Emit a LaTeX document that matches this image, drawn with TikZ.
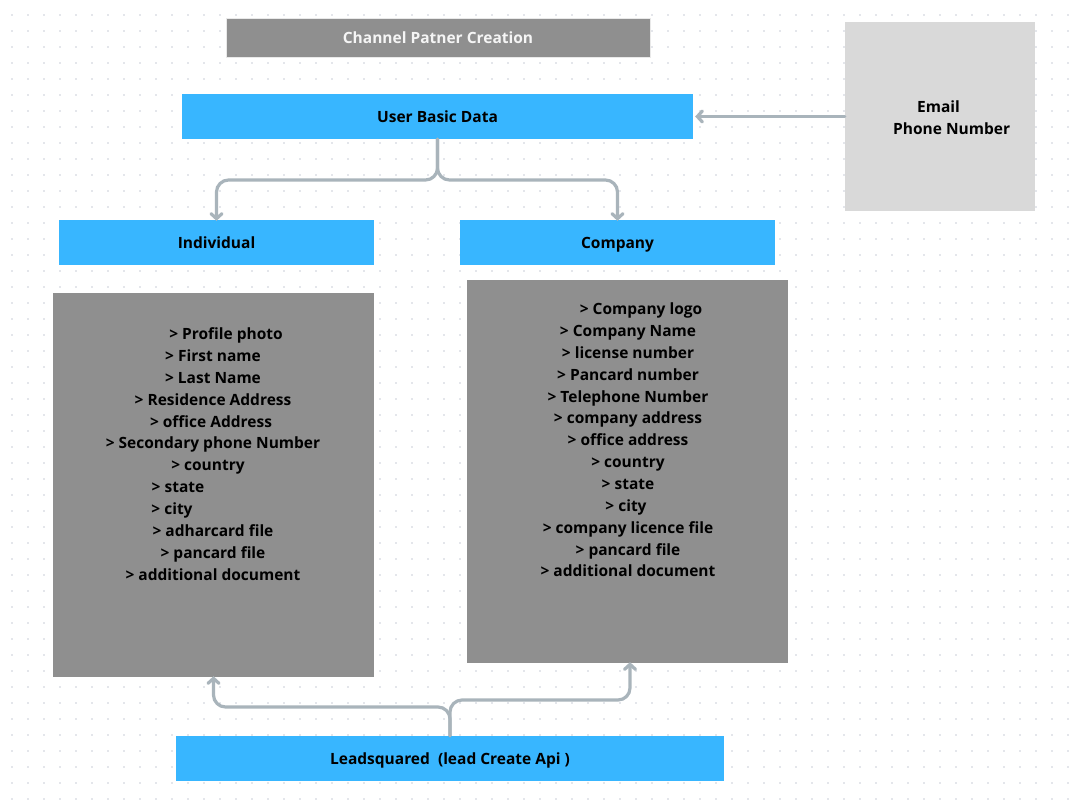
\documentclass[tikz,border=0pt]{standalone}
\usepackage{fontspec}
\setmainfont{Open Sans}
\usetikzlibrary{arrows.meta}
\definecolor{cblue}{HTML}{38B6FF}
\definecolor{cgray}{HTML}{8F8F8F}
\definecolor{clight}{HTML}{D9D9D9}
\definecolor{cconn}{HTML}{A9B4BB}
\definecolor{cdot}{HTML}{C9CED8}
\newcommand{\shl}[2]{\hbox{\hskip#1\relax#2\hskip-#1\relax}}
\begin{document}
\begin{tikzpicture}[x=1pt,y=-1pt,
  txt/.style={inner sep=0pt, font=\fontsize{15.5}{18}\selectfont\bfseries},
  box/.style={draw=none, inner sep=0pt, text height=11pt, text depth=0pt, font=\fontsize{15.5}{18}\selectfont\bfseries},
  bluebox/.style={box, fill=cblue},
  graybox/.style={box, fill=cgray},
  list/.style={txt, align=center, font=\fontsize{15.5}{21.85}\selectfont\bfseries},
  conn/.style={draw=cconn, line width=3.2pt, line cap=round, line join=round, rounded corners=12pt,
    -{Straight Barb[length=5pt,width=11pt,line cap=round]}}]
\useasboundingbox (0,0) rectangle (1083,801);
\fill[white] (0,0) rectangle (1083,801);
\foreach \i in {0,...,66} \foreach \j in {0,...,49}
  \fill[cdot] (12+16*\i, 15+16*\j) circle (0.9pt);

\node[graybox, draw=white!80!cgray, line width=1pt, minimum width=424pt, minimum height=39pt, text=white!96!black] (title) at (438,37.5) {Channel Patner Creation};
\node[bluebox, minimum width=511pt, minimum height=45pt] (ubd) at (437.5,116.5) {User Basic Data};
\node[box, fill=clight, minimum width=190pt, minimum height=189pt] (email) at (940,116.5) {};
\node[txt, align=left, anchor=west] (emailtxt) at (893,118) {\hspace*{24pt}Email\\[4pt]Phone Number};

\node[bluebox, minimum width=315pt, minimum height=45pt] (ind) at (216.5,242.5) {Individual};
\node[bluebox, minimum width=315pt, minimum height=45pt] (comp) at (617.5,242.5) {Company};

\node[graybox, minimum width=321pt, minimum height=384pt] (inddet) at (213.5,485) {};
\node[list] (indtxt) at (213,454) {\shl{13pt}{> Profile photo}\\ > First name\\ > Last Name\\ > Residence Address\\ \shl{-2pt}{> office Address}\\ > Secondary phone Number\\ \shl{-5pt}{> country}\\ \shl{-35pt}{> state}\\ \shl{-41pt}{> city}\\ > adharcard file\\ > pancard file\\ > additional document};

\node[graybox, minimum width=321pt, minimum height=383pt] (compdet) at (627.5,471.5) {};
\node[list] (comptxt) at (628,440) {\shl{13pt}{> Company logo}\\ > Company Name\\ > license number\\ > Pancard number\\ > Telephone Number\\ > company address\\ > office address\\ > country\\ > state\\ \shl{-2pt}{> city}\\ > company licence file\\ > pancard file\\ > additional document};

\node[bluebox, minimum width=548pt, minimum height=45pt] (lead) at (450,758.5) {Leadsquared\ \ (lead Create Api )};

\draw[conn] (ubd.south) -- (437.5,180) -| ([yshift=-1pt]ind.north);
\draw[conn] (ubd.south) -- (437.5,180) -| ([yshift=-1pt]comp.north);
\draw[conn] (email.west) -- ([xshift=2pt]ubd.east);
\draw[conn] (lead.north) -- (450,707) -| ([yshift=1pt]inddet.south);
\draw[conn] (lead.north) -- (450,700) -| ([xshift=2.5pt,yshift=1pt]compdet.south);
\end{tikzpicture}
\end{document}
